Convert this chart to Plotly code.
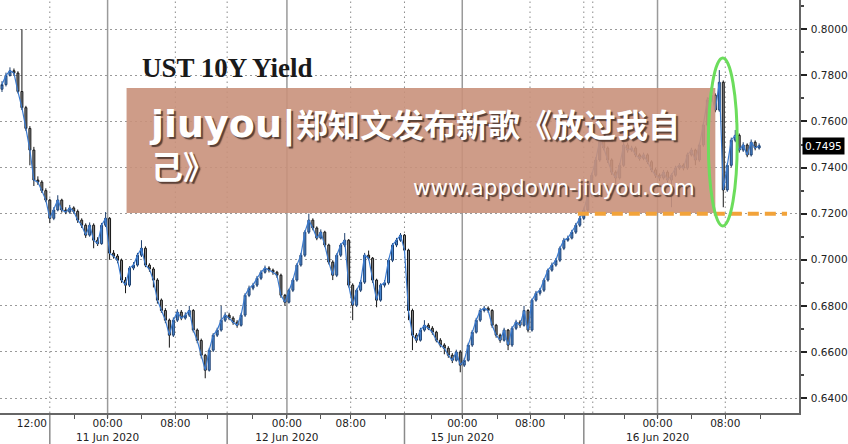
import plotly.graph_objects as go

# ---------------- data ----------------
close = [
    0.7760, 0.7800, 0.7820, 0.7810, 0.7730, 0.7660, 0.7570, 0.7476, 0.7346, 0.7337,
    0.7300, 0.7259, 0.7180, 0.7216, 0.7259, 0.7216, 0.7207, 0.7225, 0.7210, 0.7172,
    0.7150, 0.7107, 0.7150, 0.7085, 0.7070, 0.7150, 0.7180, 0.7029, 0.7016, 0.6998,
    0.6912, 0.6890, 0.6964, 0.6977, 0.7020, 0.7050, 0.6977, 0.6960, 0.6912, 0.6825,
    0.6780, 0.6738, 0.6673, 0.6738, 0.6773, 0.6747, 0.6760, 0.6780, 0.6695, 0.6650,
    0.6586, 0.6521, 0.6608, 0.6673, 0.6695, 0.6738, 0.6760, 0.6747, 0.6729, 0.6716,
    0.6760, 0.6846, 0.6877, 0.6890, 0.6920, 0.6946, 0.6964, 0.6955, 0.6946, 0.6933,
    0.6846, 0.6816, 0.6868, 0.6912, 0.6977, 0.7020, 0.7120, 0.7172, 0.7138, 0.7094,
    0.7120, 0.7064, 0.6990, 0.6933, 0.7020, 0.7064, 0.7085, 0.6890, 0.6803, 0.6868,
    0.6903, 0.7020, 0.7007, 0.6912, 0.6825, 0.6890, 0.6900, 0.6998, 0.7064, 0.7085,
    0.7107, 0.7042, 0.6780, 0.6673, 0.6651, 0.6695, 0.6716, 0.6703, 0.6686, 0.6651,
    0.6630, 0.6616, 0.6586, 0.6564, 0.6600, 0.6543, 0.6564, 0.6630, 0.6686, 0.6738,
    0.6780, 0.6790, 0.6780, 0.6716, 0.6673, 0.6651, 0.6695, 0.6630, 0.6703, 0.6730,
    0.6716, 0.6780, 0.6695, 0.6825, 0.6855, 0.6868, 0.6912, 0.6955, 0.6977, 0.6998,
    0.7050, 0.7085, 0.7094, 0.7120, 0.7150, 0.7180, 0.7216, 0.7280, 0.7367, 0.7433,
    0.7519, 0.7485, 0.7433, 0.7380, 0.7355, 0.7410, 0.7498, 0.7476, 0.7485, 0.7455,
    0.7440, 0.7455, 0.7425, 0.7390, 0.7367, 0.7355, 0.7380, 0.7346, 0.7367, 0.7398,
    0.7410, 0.7398, 0.7455, 0.7476, 0.7433, 0.7498, 0.7585, 0.7693, 0.7714, 0.7650,
    0.7770, 0.7303, 0.7410, 0.7519, 0.7540, 0.7476, 0.7498, 0.7455, 0.7510, 0.7485,
    0.7495,
]
open_ = [
    0.7740, 0.7760, 0.7800, 0.7820, 0.7810, 0.7730, 0.7660, 0.7570, 0.7476, 0.7346,
    0.7337, 0.7300, 0.7259, 0.7180, 0.7216, 0.7259, 0.7216, 0.7207, 0.7225, 0.7210,
    0.7172, 0.7150, 0.7107, 0.7150, 0.7085, 0.7070, 0.7150, 0.7180, 0.7029, 0.7016,
    0.6998, 0.6912, 0.6890, 0.6964, 0.6977, 0.7020, 0.7050, 0.6977, 0.6960, 0.6912,
    0.6825, 0.6780, 0.6738, 0.6673, 0.6738, 0.6773, 0.6747, 0.6760, 0.6780, 0.6695,
    0.6650, 0.6586, 0.6521, 0.6608, 0.6673, 0.6695, 0.6738, 0.6760, 0.6747, 0.6729,
    0.6716, 0.6760, 0.6846, 0.6877, 0.6890, 0.6920, 0.6946, 0.6964, 0.6955, 0.6946,
    0.6933, 0.6846, 0.6816, 0.6868, 0.6912, 0.6977, 0.7020, 0.7120, 0.7172, 0.7138,
    0.7094, 0.7120, 0.7064, 0.6990, 0.6933, 0.7020, 0.7064, 0.7085, 0.6890, 0.6803,
    0.6868, 0.6903, 0.7020, 0.7007, 0.6912, 0.6825, 0.6890, 0.6900, 0.6998, 0.7064,
    0.7085, 0.7107, 0.7042, 0.6780, 0.6673, 0.6651, 0.6695, 0.6716, 0.6703, 0.6686,
    0.6651, 0.6630, 0.6616, 0.6586, 0.6564, 0.6600, 0.6543, 0.6564, 0.6630, 0.6686,
    0.6738, 0.6780, 0.6790, 0.6780, 0.6716, 0.6673, 0.6651, 0.6695, 0.6630, 0.6703,
    0.6730, 0.6716, 0.6780, 0.6695, 0.6825, 0.6855, 0.6868, 0.6912, 0.6955, 0.6977,
    0.6998, 0.7050, 0.7085, 0.7094, 0.7120, 0.7150, 0.7180, 0.7216, 0.7280, 0.7367,
    0.7433, 0.7519, 0.7485, 0.7433, 0.7380, 0.7355, 0.7410, 0.7498, 0.7476, 0.7485,
    0.7455, 0.7440, 0.7455, 0.7425, 0.7390, 0.7367, 0.7355, 0.7380, 0.7346, 0.7367,
    0.7398, 0.7410, 0.7398, 0.7455, 0.7476, 0.7433, 0.7498, 0.7585, 0.7693, 0.7714,
    0.7650, 0.7770, 0.7303, 0.7410, 0.7519, 0.7540, 0.7476, 0.7498, 0.7455, 0.7510,
    0.7485,
]
high = [
    0.7775, 0.7812, 0.7835, 0.7830, 0.7818, 0.8000, 0.7668, 0.7580, 0.7490, 0.7362,
    0.7345, 0.7310, 0.7265, 0.7228, 0.7280, 0.7265, 0.7228, 0.7238, 0.7232, 0.7218,
    0.7180, 0.7158, 0.7162, 0.7158, 0.7098, 0.7160, 0.7207, 0.7185, 0.7042, 0.7025,
    0.7005, 0.6925, 0.6972, 0.6990, 0.7030, 0.7085, 0.7058, 0.6985, 0.6968, 0.6920,
    0.6832, 0.6790, 0.6745, 0.6750, 0.6785, 0.6782, 0.6772, 0.6800, 0.6786, 0.6702,
    0.6658, 0.6592, 0.6618, 0.6682, 0.6705, 0.6800, 0.6772, 0.6770, 0.6755, 0.6738,
    0.6770, 0.6855, 0.6888, 0.6900, 0.6930, 0.6955, 0.6975, 0.6972, 0.6962, 0.6952,
    0.6940, 0.6852, 0.6875, 0.6920, 0.6985, 0.7030, 0.7128, 0.7200, 0.7180, 0.7145,
    0.7132, 0.7126, 0.7070, 0.6998, 0.7028, 0.7072, 0.7116, 0.7090, 0.6898, 0.6875,
    0.6912, 0.7030, 0.7040, 0.7012, 0.6918, 0.6898, 0.6912, 0.7005, 0.7072, 0.7095,
    0.7116, 0.7112, 0.7048, 0.6788, 0.6682, 0.6705, 0.6738, 0.6725, 0.6712, 0.6692,
    0.6660, 0.6638, 0.6625, 0.6595, 0.6610, 0.6608, 0.6575, 0.6640, 0.6695, 0.6748,
    0.6790, 0.6800, 0.6798, 0.6786, 0.6722, 0.6680, 0.6705, 0.6700, 0.6712, 0.6740,
    0.6738, 0.6800, 0.6786, 0.6832, 0.6865, 0.6878, 0.6920, 0.6962, 0.6988, 0.7008,
    0.7058, 0.7095, 0.7105, 0.7130, 0.7160, 0.7190, 0.7225, 0.7290, 0.7378, 0.7445,
    0.7530, 0.7528, 0.7492, 0.7440, 0.7388, 0.7420, 0.7563, 0.7508, 0.7495, 0.7492,
    0.7462, 0.7465, 0.7462, 0.7432, 0.7398, 0.7375, 0.7390, 0.7388, 0.7375, 0.7408,
    0.7420, 0.7418, 0.7465, 0.7486, 0.7482, 0.7508, 0.7595, 0.7705, 0.7750, 0.7722,
    0.7823, 0.7778, 0.7420, 0.7530, 0.7563, 0.7548, 0.7510, 0.7505, 0.7522, 0.7518,
    0.7505,
]
low = [
    0.7728, 0.7752, 0.7795, 0.7798, 0.7722, 0.7650, 0.7560, 0.7410, 0.7320, 0.7325,
    0.7290, 0.7250, 0.7159, 0.7172, 0.7210, 0.7205, 0.7198, 0.7200, 0.7200, 0.7160,
    0.7138, 0.7095, 0.7100, 0.7050, 0.7060, 0.7065, 0.7142, 0.7000, 0.7005, 0.6985,
    0.6900, 0.6855, 0.6882, 0.6955, 0.6970, 0.7012, 0.6968, 0.6948, 0.6880, 0.6810,
    0.6770, 0.6725, 0.6619, 0.6665, 0.6730, 0.6738, 0.6740, 0.6752, 0.6685, 0.6638,
    0.6572, 0.6486, 0.6515, 0.6600, 0.6665, 0.6688, 0.6730, 0.6738, 0.6718, 0.6705,
    0.6710, 0.6752, 0.6838, 0.6868, 0.6882, 0.6912, 0.6940, 0.6945, 0.6935, 0.6922,
    0.6835, 0.6800, 0.6810, 0.6860, 0.6905, 0.6970, 0.7012, 0.7112, 0.7128, 0.7085,
    0.7088, 0.7055, 0.6980, 0.6912, 0.6925, 0.7012, 0.7055, 0.6880, 0.6738, 0.6795,
    0.6860, 0.6895, 0.6998, 0.6900, 0.6794, 0.6818, 0.6880, 0.6892, 0.6990, 0.7055,
    0.7078, 0.7035, 0.6738, 0.6608, 0.6640, 0.6645, 0.6688, 0.6695, 0.6675, 0.6642,
    0.6620, 0.6590, 0.6575, 0.6552, 0.6558, 0.6512, 0.6535, 0.6558, 0.6622, 0.6680,
    0.6730, 0.6772, 0.6770, 0.6705, 0.6662, 0.6640, 0.6645, 0.6608, 0.6622, 0.6695,
    0.6705, 0.6710, 0.6685, 0.6688, 0.6818, 0.6845, 0.6860, 0.6905, 0.6948, 0.6970,
    0.6990, 0.7042, 0.7078, 0.7088, 0.7112, 0.7142, 0.7172, 0.7208, 0.7272, 0.7360,
    0.7425, 0.7475, 0.7420, 0.7368, 0.7330, 0.7348, 0.7402, 0.7465, 0.7468, 0.7445,
    0.7430, 0.7432, 0.7415, 0.7380, 0.7355, 0.7342, 0.7348, 0.7335, 0.7228, 0.7360,
    0.7390, 0.7388, 0.7390, 0.7448, 0.7410, 0.7425, 0.7490, 0.7578, 0.7685, 0.7640,
    0.7642, 0.7228, 0.7295, 0.7402, 0.7510, 0.7465, 0.7468, 0.7445, 0.7448, 0.7475,
    0.7478,
]
bar = list(range(len(close)))

# time axis (bar-index positions of the session marks)
tick_bars = [7.5, 26.5, 43.5, 71.5, 87.5, 115.5, 132.5, 164.5, 181.5]
tick_text = ["12:00", "00:00<br>11 Jun 2020", "08:00", "00:00<br>12 Jun 2020", "08:00",
             "00:00<br>15 Jun 2020", "08:00", "00:00<br>16 Jun 2020", "08:00"]
day_start_bars = [26.5, 71.5, 115.5, 164.5]
session_bars = [12, 43.5, 56.5, 87.5, 101, 132.5, 146, 148.25, 181.5]
separator_bars = [12, 56.5, 101, 146]
minor_tick_bars = [18.25, 26.5, 35, 43.5, 51.5, 62.75, 71.5, 80, 87.5, 96.25, 107.75,
                   115.5, 124.25, 132.5, 141.25, 156.25, 164.5, 173, 181.5, 190.25]
y_ticks = [0.64, 0.66, 0.68, 0.70, 0.72, 0.74, 0.76, 0.78, 0.80]

title_text = "UST 10Y Yield"
wm_latin = "jiuyou|"
wm_line1 = "郑知文发布新歌《放过我自"
wm_line2 = "己》"
wm_url = "www.appdown-jiuyou.com"
support_level = 0.72
spike_window = [177.25, 184.5, 0.7147, 0.7875]   # highlighted region (bars, yield)

# ---------------- figure ----------------
fig = go.Figure()
fig.add_trace(go.Scatter(x=bar, y=close, mode="lines",
                         line=dict(color="#3b7bd0", width=1.2),
                         hoverinfo="skip", showlegend=False))
fig.add_trace(go.Candlestick(
    x=bar, open=open_, high=high, low=low, close=close,
    increasing=dict(line=dict(color="#1d3f6e", width=1), fillcolor="#4a8ad6"),
    decreasing=dict(line=dict(color="#151515", width=1), fillcolor="#8c8c8c"),
    whiskerwidth=0, showlegend=False))

shapes = []
for b in session_bars:
    shapes.append(dict(type="line", xref="x", yref="paper", x0=b, x1=b, y0=0, y1=1,
                       line=dict(color="#8a8a8a", width=1, dash="1.5px,3.5px"), layer="below"))
for b in day_start_bars:
    shapes.append(dict(type="line", xref="x", yref="paper", x0=b, x1=b, y0=-0.012, y1=1,
                       line=dict(color="#9a9a9a", width=1.5), layer="below"))
for b in separator_bars:
    shapes.append(dict(type="line", xref="x", yref="paper", x0=b, x1=b, y0=-0.08, y1=0,
                       line=dict(color="#8a8a8a", width=1.5), layer="below"))
# watermark banner
shapes.append(dict(type="rect", xref="paper", yref="paper", x0=0.1584, x1=0.8953,
                   y0=0.4843, y1=0.7869, fillcolor="#C9917B", opacity=0.9,
                   line=dict(width=0), layer="above"))
# support line and highlight ellipse
shapes.append(dict(type="line", xref="x", yref="y", x0=144.5, x1=197,
                   y0=support_level, y1=support_level,
                   line=dict(color="#F2A33A", width=4, dash="11px,6px"), layer="above"))
shapes.append(dict(type="circle", xref="x", yref="y", x0=spike_window[0], x1=spike_window[1],
                   y0=spike_window[2], y1=spike_window[3],
                   line=dict(color="#6CDD5C", width=3), layer="above"))

shadow = "2px 2px 1px #5a4036"
wm_text = ("<b><span style='font-family:DejaVu Sans;font-size:38px'>" + wm_latin +
           "</span>" + wm_line1 + "<br>" + wm_line2 + "</b>")
annotations = [
    dict(text="<b>" + title_text + "</b>", xref="paper", yref="paper", x=0.1746, y=0.8354,
         xanchor="left", yanchor="middle", showarrow=False,
         font=dict(family="Liberation Serif", size=27, color="#1a1a1a")),
    dict(text=wm_text, xref="paper", yref="paper", x=0.1845, y=0.652,
         xanchor="left", yanchor="middle", align="left", showarrow=False,
         font=dict(family="Noto Sans CJK SC", size=32, color="white", shadow=shadow)),
    dict(text=wm_url, xref="paper", yref="paper", x=0.8728, y=0.5448,
         xanchor="right", yanchor="middle", showarrow=False,
         font=dict(family="DejaVu Sans", size=21.5, color="white", shadow=shadow)),
    dict(text="%.4f" % close[-1], xref="paper", yref="y", x=1.004, y=close[-1],
         xanchor="left", yanchor="middle", showarrow=False, bgcolor="#000000",
         borderpad=2, font=dict(family="DejaVu Sans", size=10.5, color="white")),
]

fig.update_layout(
    width=848, height=444,
    margin=dict(l=0, r=46, t=0, b=31),
    paper_bgcolor="white", plot_bgcolor="white",
    showlegend=False,
    shapes=shapes, annotations=annotations,
    xaxis=dict(range=[-0.5, 200], tickmode="array", tickvals=tick_bars, ticktext=tick_text,
               ticks="", showgrid=False, zeroline=False, showline=True,
               linecolor="#666666", linewidth=1.5,
               tickfont=dict(family="DejaVu Sans", size=10.5, color="#222222"),
               rangeslider=dict(visible=False),
               minor=dict(tickmode="array", tickvals=minor_tick_bars, ticks="outside",
                          ticklen=4, tickcolor="#555555", showgrid=False)),
    yaxis=dict(side="right", range=[0.63353, 0.81271], tickmode="array", tickvals=y_ticks,
               tickformat=".4f", ticks="outside", ticklen=6, tickwidth=1.5, tickcolor="#222222",
               showgrid=True, gridcolor="#9a9a9a", gridwidth=1, griddash="1.5px,3.5px",
               zeroline=False, showline=True, linecolor="#666666", linewidth=1.5,
               ticklabelstandoff=2,
               tickfont=dict(family="DejaVu Sans", size=10.5, color="#222222"),
               minor=dict(dtick=0.01, ticks="outside", ticklen=3, tickcolor="#444444",
                          showgrid=False)),
)

fig.write_html("out.html", config={"displayModeBar": False},
               post_script="document.body.style.margin='0px';")
